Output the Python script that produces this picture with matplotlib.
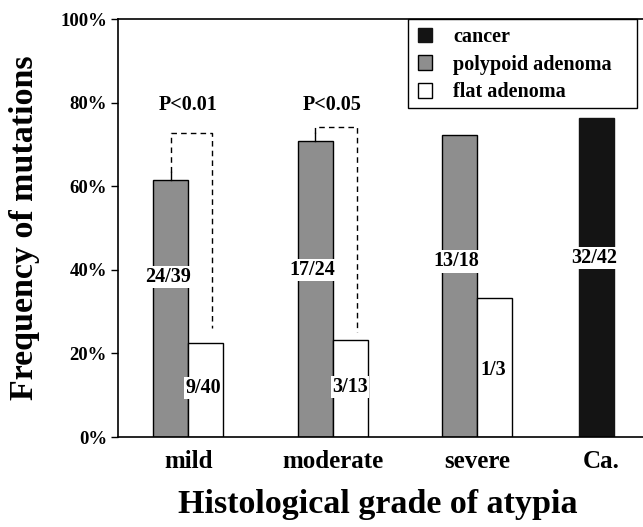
import matplotlib
matplotlib.use("Agg")
import matplotlib.pyplot as plt
from matplotlib.patches import Patch, Rectangle

plt.rcParams['font.family'] = ['Liberation Serif', 'DejaVu Serif']

# ---- data ----
grades = ["mild", "moderate", "severe"]
polyp_vals = [61.5, 70.8, 72.2]
polyp_labels = ["24/39", "17/24", "13/18"]
flat_vals = [22.5, 23.1, 33.3]
flat_labels = ["9/40", "3/13", "1/3"]
cancer_label_cat = "Ca."
cancer_val = 76.2
cancer_label = "32/42"
yticks = [0, 20, 40, 60, 80, 100]
ytick_labels = ["0%", "20%", "40%", "60%", "80%", "100%"]
pvals = ["P<0.01", "P<0.05", None]
bracket_tops = [72.7, 74.2]
bracket_bottoms = [26.0, 25.2]

# ---- layout ----
W, H = 643, 527
fig = plt.figure(figsize=(W/100, H/100), dpi=100)
ax = fig.add_axes([118/W, 90/H, 1 - 118/W, 418/H])

gx = [0, 1, 2]
ca_x = 2.83
w = 0.2425
polyp_color = "#8e8e8e"

for i, g in enumerate(gx):
    ax.bar(g - w/2, polyp_vals[i], width=w, color=polyp_color, edgecolor="black", linewidth=1.0)
    ax.bar(g + w/2, flat_vals[i], width=w, color="white", edgecolor="black", linewidth=1.0)
ax.bar(ca_x, cancer_val, width=w, color="#141414", edgecolor="#141414", linewidth=1.0)

# value labels
poly_label_y = [38.3, 40.0, 42.0]
flat_label_y = [11.7, 12.0, 16.0]
flat_label_dx = [-0.02, 0.0, -0.01]
for i, g in enumerate(gx):
    ax.text(g - w/2 - 0.02, poly_label_y[i], polyp_labels[i], ha="center", va="center",
            fontsize=14.5, fontweight="bold",
            bbox=dict(facecolor="white", edgecolor="none", pad=0.8))
    ax.text(g + w/2 + flat_label_dx[i], flat_label_y[i], flat_labels[i], ha="center", va="center",
            fontsize=14.5, fontweight="bold",
            bbox=dict(facecolor="white", edgecolor="none", pad=0.8))
ax.text(ca_x - 0.02, 42.8, cancer_label, ha="center", va="center", fontsize=14.5, fontweight="bold",
        bbox=dict(facecolor="white", edgecolor="none", pad=0.8))

# significance brackets
for i in range(2):
    g = gx[i]
    xl = g - w/2
    xr = g + w/2 + 0.045
    ax.plot([xl, xl], [polyp_vals[i], polyp_vals[i] + 2.0], color="black", lw=1.0)
    ax.plot([xl, xl, xr, xr], [polyp_vals[i] + 2.0, bracket_tops[i], bracket_tops[i], bracket_bottoms[i]],
            color="black", lw=1.0, dashes=(4, 3))
    ax.text(g, 79.5, pvals[i], ha="center", va="center", fontsize=14.5, fontweight="bold")

ax.set_xlim(-0.487, 3.151)
ax.set_ylim(0, 100)
ax.set_yticks(yticks)
ax.set_yticklabels(ytick_labels, fontsize=13.5, fontweight="bold")
ax.set_xticks(gx + [ca_x + 0.03])
ax.set_xticklabels(grades + [cancer_label_cat], fontsize=18, fontweight="bold")
ax.tick_params(axis="x", length=0, pad=9)
ax.tick_params(axis="y", length=5, width=1.0, direction="out", pad=3)
ax.spines["right"].set_visible(False)
for s in ["left", "top", "bottom"]:
    ax.spines[s].set_linewidth(1.2)

fig.text(25/W, 0.568, "Frequency of mutations", rotation=90, ha="center", va="center",
         fontsize=24.5, fontweight="bold")
fig.text(0.588, 0.042, "Histological grade of atypia", ha="center", va="center",
         fontsize=24.5, fontweight="bold")

# legend: frame drawn separately
handles = [Patch(facecolor="#141414", edgecolor="#141414"),
           Patch(facecolor=polyp_color, edgecolor="black"),
           Patch(facecolor="white", edgecolor="black")]
labels = ["cancer", "polypoid adenoma", "flat adenoma"]
leg = fig.legend(handles, labels, loc="upper left", bbox_to_anchor=(418/W, 1 - 27/H),
                 frameon=False, prop=dict(weight="bold", size=14.5),
                 handlelength=0.7, handleheight=0.75, handletextpad=1.05, labelspacing=0.38,
                 borderpad=0, borderaxespad=0)
fig.patches.append(Rectangle((408/W, 1 - 108/H), (637 - 408)/W, (108 - 19)/H,
                             transform=fig.transFigure, facecolor="none",
                             edgecolor="black", linewidth=1.0, zorder=5))

fig.savefig("out.png", dpi=100)
